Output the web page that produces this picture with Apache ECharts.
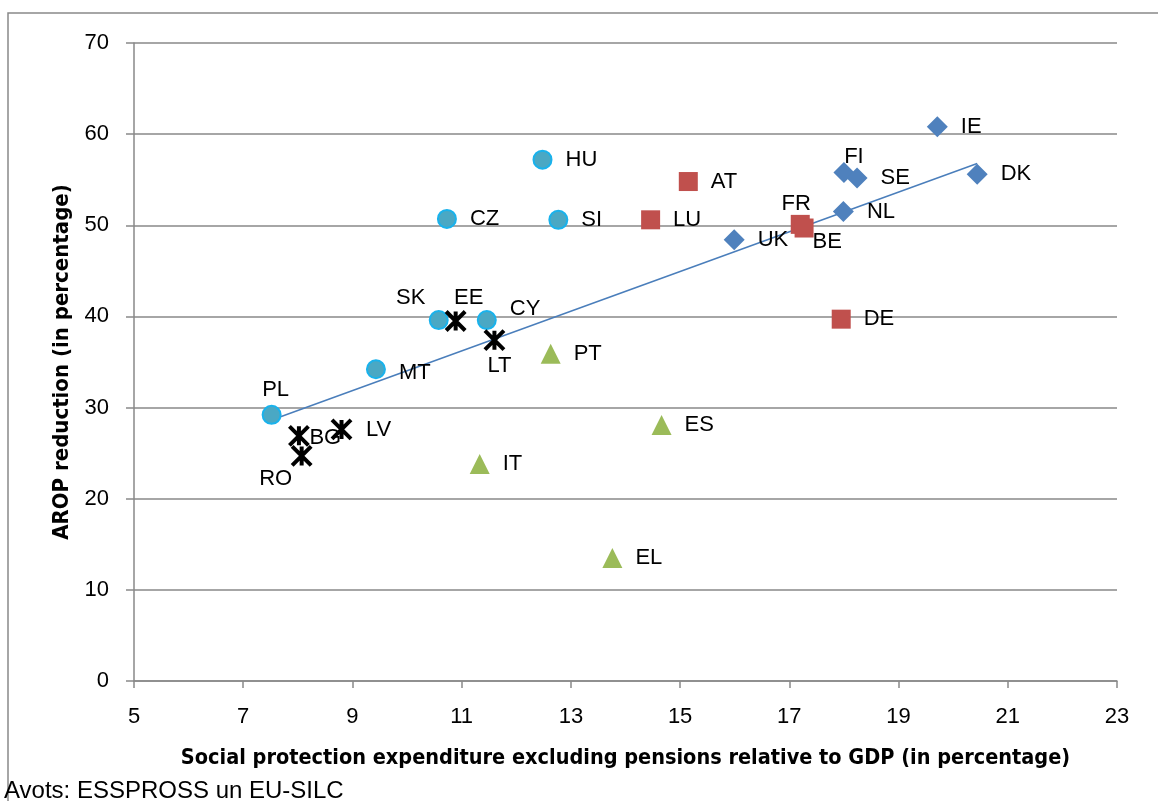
<!DOCTYPE html>
<html>
<head>
<meta charset="utf-8">
<title>AROP reduction vs social protection expenditure</title>
<script src="https://cdn.jsdelivr.net/npm/echarts@6/dist/echarts.min.js"></script>
<style>
  html, body { margin: 0; padding: 0; background: #fff; }
  #chart { width: 1158px; height: 801px; }
</style>
</head>
<body>
<div id="chart"></div>
<script>
// country groups
const circleCodes = ['PL', 'MT', 'SK', 'CY', 'CZ', 'SI', 'HU'];
const circleX = [7.52, 9.43, 10.58, 11.46, 10.73, 12.77, 12.48];
const circleY = [29.2, 34.2, 39.6, 39.6, 50.7, 50.6, 57.2];

const starCodes = ['BG', 'RO', 'LV', 'EE', 'LT'];
const starX = [8.02, 8.07, 8.80, 10.89, 11.60];
const starY = [26.9, 24.7, 27.6, 39.5, 37.4];

const triangleCodes = ['PT', 'IT', 'ES', 'EL'];
const triangleX = [12.63, 11.33, 14.66, 13.76];
const triangleY = [35.9, 23.8, 28.1, 13.5];

const squareCodes = ['AT', 'LU', 'FR', 'BE', 'DE'];
const squareX = [15.15, 14.46, 17.20, 17.27, 17.95];
const squareY = [54.8, 50.6, 50.1, 49.7, 39.7];

const diamondCodes = ['IE', 'DK', 'FI', 'SE', 'NL', 'UK'];
const diamondX = [19.71, 20.44, 18.00, 18.24, 17.99, 15.99];
const diamondY = [60.8, 55.6, 55.8, 55.2, 51.5, 48.4];

const xTicks = [5, 7, 9, 11, 13, 15, 17, 19, 21, 23];

// where each label sits relative to its marker (default: right)
const labelPlace = {
  PL: { position: 'top', distance: 4, offset: [4, 0] },
  SK: { position: 'top', distance: 4, offset: [-28, 3] },
  EE: { position: 'top', distance: 4, offset: [13, 3] },
  CY: { offset: [0, -11] },
  MT: { offset: [0, 4] },
  BG: { offset: [-14, 2] },
  RO: { position: 'bottom', distance: 4, offset: [-26, -3] },
  LT: { position: 'bottom', distance: 4, offset: [5, -1] },
  FR: { position: 'top', distance: 4, offset: [-4, 4] },
  FI: { position: 'top', distance: 4, offset: [10, 10] },
  BE: { offset: [-14, 14] },
};

const labelFont = { fontFamily: 'Liberation Sans, Arial, sans-serif', fontSize: 22, color: '#000' };
const titleFont = 'Liberation Sans Narrow, DejaVu Sans Condensed, Liberation Sans, sans-serif';
const gray = '#898989';

function points(codes, xs, ys) {
  return codes.map((code, i) => {
    const p = labelPlace[code] || {};
    return {
      name: code,
      value: [xs[i], ys[i]],
      label: {
        show: true,
        formatter: code,
        position: p.position || 'right',
        distance: p.distance !== undefined ? p.distance : 13,
        offset: p.offset || [0, 0],
        ...labelFont,
      },
    };
  });
}

// linear trend over all countries
const allX = [].concat(circleX, starX, triangleX, squareX, diamondX);
const allY = [].concat(circleY, starY, triangleY, squareY, diamondY);
const mx = allX.reduce((a, b) => a + b, 0) / allX.length;
const my = allY.reduce((a, b) => a + b, 0) / allY.length;
let sxy = 0, sxx = 0;
allX.forEach((x, i) => { sxy += (x - mx) * (allY[i] - my); sxx += (x - mx) * (x - mx); });
const slope = sxy / sxx;
const icept = my - slope * mx;
const xLo = Math.min(...allX), xHi = Math.max(...allX);
const trend = [[xLo, icept + slope * xLo], [xHi, icept + slope * xHi]];

const option = {
  animation: false,
  grid: { left: 134, right: 41, top: 43, bottom: 120 },
  xAxis: {
    type: 'value',
    min: 5,
    max: 23,
    name: 'Social protection expenditure excluding pensions relative to GDP (in percentage)',
    nameLocation: 'middle',
    nameGap: 66,
    nameTextStyle: { fontFamily: titleFont, fontWeight: 'bold', fontSize: 21.5, color: '#000' },
    axisLine: { lineStyle: { color: gray, width: 1.5 } },
    axisTick: { show: true, length: 7, customValues: xTicks, lineStyle: { color: gray, width: 1.5 } },
    axisLabel: { customValues: xTicks, margin: 25, ...labelFont },
    splitLine: { show: false },
  },
  yAxis: {
    type: 'value',
    min: 0,
    max: 70,
    interval: 10,
    name: 'AROP reduction (in percentage)',
    nameLocation: 'middle',
    nameGap: 61,
    nameTextStyle: { fontFamily: titleFont, fontWeight: 'bold', fontSize: 22, color: '#000' },
    axisLine: { show: true, lineStyle: { color: gray, width: 1.5 } },
    axisTick: { show: true, length: 8, lineStyle: { color: gray, width: 1.5 } },
    axisLabel: { margin: 25, ...labelFont },
    splitLine: { show: true, lineStyle: { color: gray, width: 1.5 } },
  },
  graphic: [
    {
      type: 'rect',
      shape: { x: 8, y: 13, width: 1300, height: 900 },
      style: { fill: 'none', stroke: gray, lineWidth: 1.5 },
      silent: true,
    },
    {
      type: 'text',
      left: 4,
      top: 779,
      style: { text: 'Avots: ESSPROSS un EU-SILC', fontFamily: 'Liberation Sans, Arial, sans-serif', fontSize: 24, fill: '#000' },
    },
  ],
  series: [
    {
      name: 'Trend',
      type: 'line',
      data: trend,
      symbol: 'none',
      z: 1,
      lineStyle: { color: '#4a7ebb', width: 1.5 },
    },
    {
      name: 'Circles',
      type: 'scatter',
      symbol: 'circle',
      symbolSize: 18,
      z: 3,
      itemStyle: { color: '#4aa8c4', borderColor: '#19b2ec', borderWidth: 2, opacity: 1 },
      data: points(circleCodes, circleX, circleY),
    },
    {
      name: 'Stars',
      type: 'scatter',
      symbol: 'path://M0,0L20,20M20,0L0,20M10,0L10,20',
      symbolSize: 19,
      z: 3,
      itemStyle: { color: '#000', borderColor: '#000', borderWidth: 4, opacity: 1 },
      data: points(starCodes, starX, starY),
    },
    {
      name: 'Triangles',
      type: 'scatter',
      symbol: 'triangle',
      symbolSize: 20,
      z: 3,
      itemStyle: { color: '#9bbb59', opacity: 1 },
      data: points(triangleCodes, triangleX, triangleY),
    },
    {
      name: 'Squares',
      type: 'scatter',
      symbol: 'rect',
      symbolSize: 19,
      z: 3,
      itemStyle: { color: '#c0504d', opacity: 1 },
      data: points(squareCodes, squareX, squareY),
    },
    {
      name: 'Diamonds',
      type: 'scatter',
      symbol: 'diamond',
      symbolSize: 21,
      z: 3,
      itemStyle: { color: '#4f81bd', opacity: 1 },
      data: points(diamondCodes, diamondX, diamondY),
    },
  ],
};

const myChart = echarts.init(document.getElementById('chart'));
myChart.setOption(option);
</script>
</body>
</html>
